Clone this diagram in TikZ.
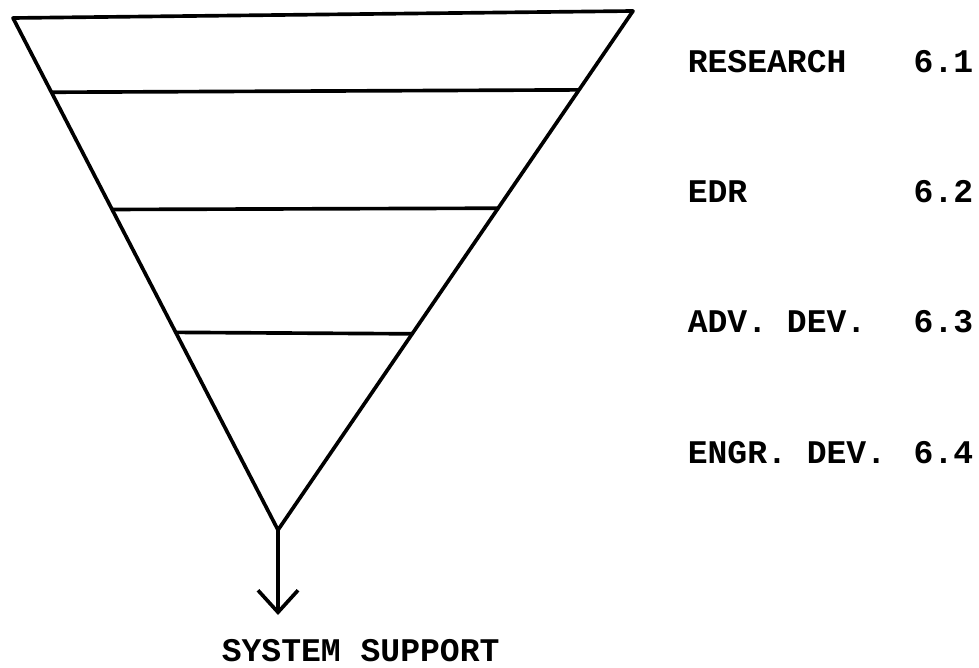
\documentclass[tikz,border=0pt]{standalone}
\usepackage{fontspec}
\setmonofont{Liberation Mono}
\usetikzlibrary{arrows.meta,calc}

\begin{document}
\begin{tikzpicture}[x=0.025cm,y=-0.025cm,line width=2.6pt,
        typed/.style={font=\ttfamily\bfseries\fontsize{23.5pt}{28pt}\selectfont,
            inner sep=0pt,anchor=west},
        level/.style={typed,anchor=east}]
            \useasboundingbox (0,0) rectangle (979,668);

            \coordinate (tl) at (13,18);
            \coordinate (tr) at (633,11);
            \coordinate (v) at (278,530);
            \coordinate (out) at (278,615);

            \draw[line join=round] (tl) -- (tr) -- (v) -- cycle;

            \draw ($(tl)!0.145!(v)$) -- ($(tr)!0.152!(v)$);
            \draw ($(tl)!0.374!(v)$) -- ($(tr)!0.380!(v)$);
            \draw ($(tl)!0.614!(v)$) -- ($(tr)!0.622!(v)$);

            \draw[-{Straight Barb[length=0.55cm,width=1cm]}] (v) -- (out);

            \node[typed] (research) at (686,62) {RESEARCH};
            \node[typed] (edr) at (686,192) {EDR};
            \node[typed] (advdev) at (686,322) {ADV. DEV.};
            \node[typed] (engrdev) at (686,453) {ENGR. DEV.};

            \node[level] (n61) at (975,62) {6.1};
            \node[level] (n62) at (975,192) {6.2};
            \node[level] (n63) at (975,322) {6.3};
            \node[level] (n64) at (975,453) {6.4};

            \node[typed] (support) at (220,651) {SYSTEM SUPPORT};
        \end{tikzpicture}
\end{document}
